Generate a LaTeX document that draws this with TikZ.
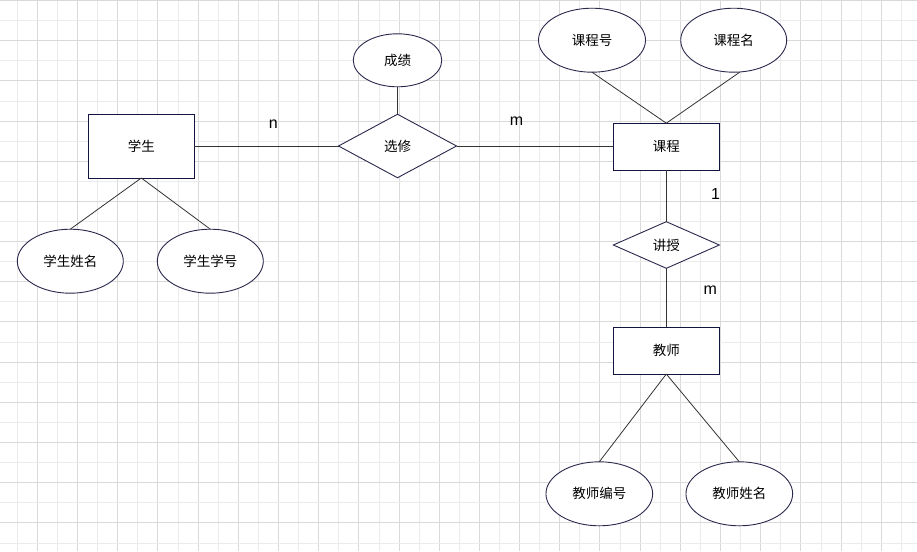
\documentclass[tikz,border=0pt]{standalone}
\usepackage{fontspec}
\setmainfont{Liberation Sans}
\newfontfamily\cjk{Noto Sans CJK SC}
\usetikzlibrary{shapes.geometric}
\definecolor{navy}{HTML}{141440}
\definecolor{gridmajor}{HTML}{D9D9D9}
\definecolor{gridminor}{HTML}{EBEBEB}
\definecolor{linkc}{HTML}{333333}
\tikzset{
  entity/.style={draw=navy,line width=1pt,fill=white,rectangle,inner sep=0pt,outer sep=0pt,
    minimum width=106pt,font=\cjk\fontsize{13.5}{16}\selectfont},
  attr/.style={draw=navy!80!gray,line width=0.9pt,fill=white,ellipse,inner sep=0pt,outer sep=0pt,
    minimum width=106pt,minimum height=64pt,font=\cjk\fontsize{13.5}{16}\selectfont},
  rel/.style={draw=navy!80!gray,line width=0.9pt,fill=white,diamond,inner sep=0pt,outer sep=0pt,
    font=\cjk\fontsize{13.5}{16}\selectfont},
  link/.style={draw=linkc,line width=0.8pt},
  card/.style={font=\fontsize{16}{18}\selectfont,text=black,inner sep=0pt}
}
\begin{document}
\begin{tikzpicture}[x=1pt,y=-1pt]
\useasboundingbox (0,0) rectangle (917,551);
\fill[white] (0,0) rectangle (917,551);
% grid
\foreach \i in {0,...,45} {
  \pgfmathsetmacro{\gx}{17.3+20.09*\i}
  \pgfmathsetmacro{\odd}{mod(\i,2)}
  \ifdim\odd pt=0pt
    \draw[gridminor,line width=0.8pt] (\gx,0) -- (\gx,551);
  \else
    \draw[gridmajor,line width=1pt] (\gx,0) -- (\gx,551);
  \fi
}
\foreach \j in {0,...,27} {
  \pgfmathsetmacro{\gy}{0.5+20.09*\j}
  \pgfmathsetmacro{\odd}{mod(\j,2)}
  \ifdim\odd pt=0pt
    \draw[gridmajor,line width=1pt] (0,\gy) -- (917,\gy);
  \else
    \draw[gridminor,line width=0.8pt] (0,\gy) -- (917,\gy);
  \fi
}
% nodes
\node[entity,minimum height=64pt] (xs) at (141.3,146) {学生};
\node[attr] (xsxm) at (70.3,261.2) {学生姓名};
\node[attr] (xsxh) at (210.3,261.2) {学生学号};
\node[rel,minimum width=118pt,minimum height=63.5pt] (xx) at (397.5,146) {选修};
\node[attr,minimum width=88.5pt,minimum height=53pt] (cj) at (397.5,60.3) {成绩};
\node[entity,minimum height=47pt] (kc) at (666.3,146.7) {课程};
\node[attr,minimum width=107pt] (kch) at (592,40.2) {课程号};
\node[attr] (kcm) at (733.7,40.2) {课程名};
\node[rel,minimum width=106pt,minimum height=46.6pt] (js) at (666.3,245) {讲授};
\node[entity,minimum height=46.7pt] (jsh) at (666.3,350.7) {教师};
\node[attr,minimum width=106.7pt] (jsbh) at (599.3,493.8) {教师编号};
\node[attr,minimum width=106.7pt] (jsxm) at (739.3,493.8) {教师姓名};
% connectors
\draw[link] (xs.south) -- (xsxm.north);
\draw[link] (xs.south) -- (xsxh.north);
\draw[link] (xs.east) -- (xx.west);
\draw[link] (cj.south) -- (xx.north);
\draw[link] (xx.east) -- (xx.east -| kc.west);
\draw[link] (kch.south) -- (kc.north);
\draw[link] ([xshift=6pt]kcm.south) -- (kc.north);
\draw[link] (kc.south) -- (js.north);
\draw[link] (js.south) -- (jsh.north);
\draw[link] (jsh.south) -- (jsbh.north);
\draw[link] (jsh.south) -- (jsxm.north);
% cardinalities
\node[card] (c1) at (273.3,124) {n};
\node[card] (c2) at (516.5,121) {m};
\node[card] (c3) at (715.5,194) {1};
\node[card] (c4) at (710.3,290.5) {m};
\end{tikzpicture}
\end{document}
